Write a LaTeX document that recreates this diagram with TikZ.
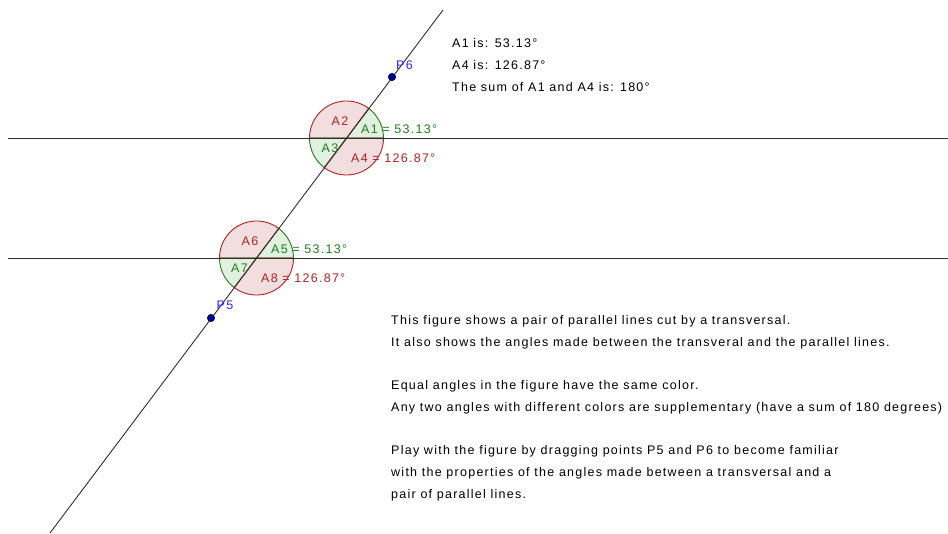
\documentclass[tikz,border=0pt]{standalone}
\usepackage{fontspec}
\setmainfont{Liberation Sans}[LetterSpace=10]
\usetikzlibrary{calc,positioning}
\definecolor{angred}{RGB}{170,35,35}
\definecolor{angredfill}{RGB}{242,222,222}
\definecolor{anggreen}{RGB}{30,125,30}
\definecolor{anggreenfill}{RGB}{226,240,224}
\definecolor{ptblue}{RGB}{0,0,150}
\definecolor{lblblue}{RGB}{40,40,255}
\definecolor{linegray}{RGB}{45,45,45}
\tikzset{
  redsector/.style={fill=angredfill,draw=angred,line width=0.9pt},
  greensector/.style={fill=anggreenfill,draw=anggreen,line width=0.9pt},
  redlbl/.style={text=angred,inner sep=0pt},
  greenlbl/.style={text=anggreen,inner sep=0pt},
  geoline/.style={linegray,line width=0.9pt},
  ptdot/.style={circle,fill=ptblue,draw=black,line width=0.4pt,inner sep=0pt,minimum size=7.5pt},
  ptlbl/.style={text=lblblue,inner sep=0pt},
  infotext/.style={align=left,inner sep=0pt,anchor=north west}
}
\begin{document}
\begin{tikzpicture}[x=1pt,y=-1pt,font=\fontsize{12.5}{21.7}\selectfont]
\useasboundingbox (0,0) rectangle (948,533);
% ---------------- intersections of the transversal ----------------
% (y axis points down, so screen angles are negated)
\coordinate (X1) at (346.5,138);
\coordinate (X2) at (256.5,258);
\foreach \c in {X1,X2}{
  \draw[greensector] (\c) -- ++(0:37) arc (0:-53.13:37) -- cycle;
  \draw[redsector] (\c) -- ++(-53.13:37) arc (-53.13:-180:37) -- cycle;
  \draw[greensector] (\c) -- ++(-180:37) arc (-180:-233.13:37) -- cycle;
  \draw[redsector] (\c) -- ++(-233.13:37) arc (-233.13:-360:37) -- cycle;
}
% ---------------- parallel lines and transversal ----------------
\coordinate (L1a) at (8,138);  \coordinate (L1b) at (948,138);
\coordinate (L2a) at (8,258);  \coordinate (L2b) at (948,258);
\coordinate (Tb) at (50,533);  \coordinate (Tt) at (443,10);
\draw[geoline] (L1a) -- (L1b);
\draw[geoline] (L2a) -- (L2b);
\draw[geoline] (Tb) -- (Tt);
% ---------------- angle labels ----------------
\node[redlbl] (a2) at (340,121) {A2};
\node[greenlbl,anchor=west] (a1) at (361,129) {A1 = 53.13°};
\node[greenlbl] (a3) at (330,148) {A3};
\node[redlbl,anchor=west] (a4) at (351,158) {A4 = 126.87°};
\node[redlbl] (a6) at (250,241) {A6};
\node[greenlbl,anchor=west] (a5) at (271,249) {A5 = 53.13°};
\node[greenlbl] (a7) at (239.5,268) {A7};
\node[redlbl,anchor=west] (a8) at (261,278) {A8 = 126.87°};
% ---------------- points ----------------
\node[ptdot] (P6) at (392,77) {};
\node[ptlbl] (P6lbl) at (404.5,65) {P6};
\node[ptdot] (P5) at (211,318) {};
\node[ptlbl] (P5lbl) at (225,305) {P5};
% ---------------- texts ----------------
\node[infotext] (sums) at (452,38.5)
  {A1 is: 53.13°\\A4 is: 126.87°\\The sum of A1 and A4 is: 180°};
\node[infotext] (para1) at (391,315.5)
  {This figure shows a pair of parallel lines cut by a transversal.\\
   It also shows the angles made between the transveral and the parallel lines.};
\node[infotext] (para2) at (391,380.5)
  {Equal angles in the figure have the same color.\\
   Any two angles with different colors are supplementary (have a sum of 180 degrees)};
\node[infotext] (para3) at (391,445.5)
  {Play with the figure by dragging points P5 and P6 to become familiar\\
   with the properties of the angles made between a transversal and a\\
   pair of parallel lines.};
\end{tikzpicture}
\end{document}
